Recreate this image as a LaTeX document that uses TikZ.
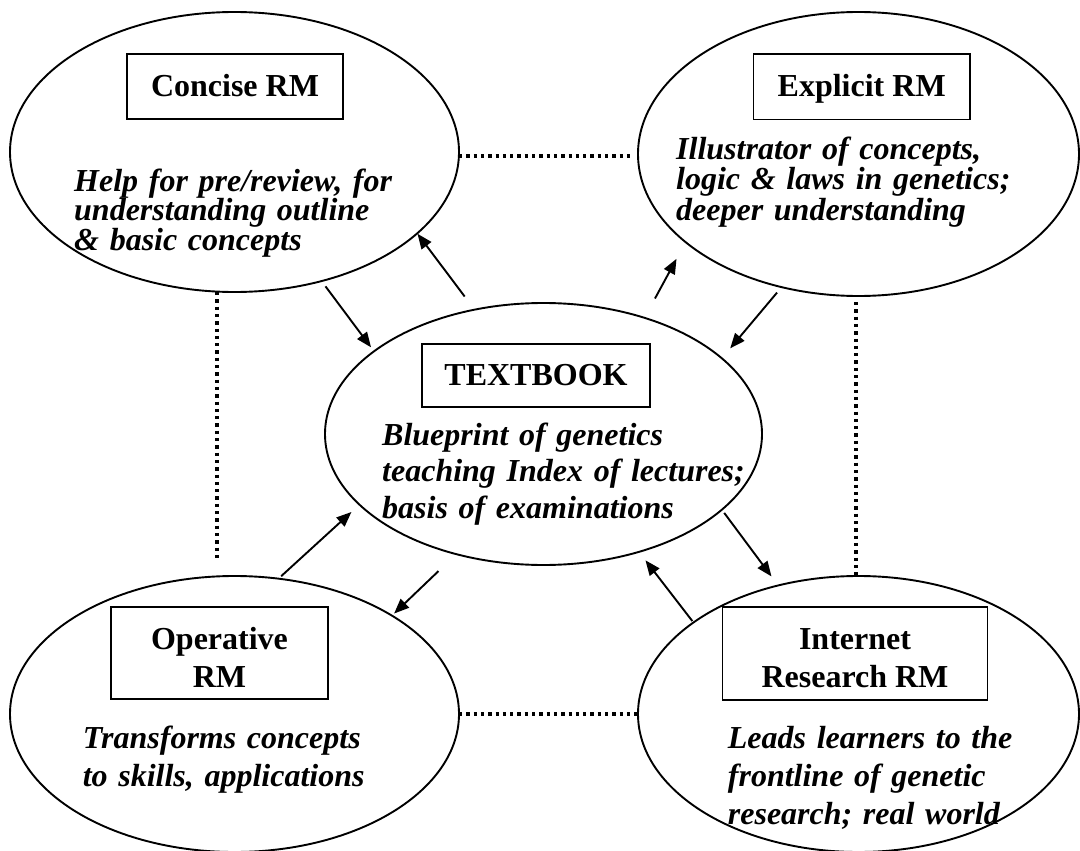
\documentclass[tikz,border=0pt]{standalone}
\usepackage{fontspec}
\setmainfont{Liberation Serif}
\usetikzlibrary{shapes.geometric,arrows.meta}
\lineskiplimit=-50pt
\tikzset{
  oval/.style={ellipse, draw, line width=1.9pt, inner sep=0pt, outer sep=0pt},
  lbl/.style={draw, line width=1.5pt, inner sep=0pt, align=center,
    font=\bfseries\fontsize{32}{38}\selectfont},
  onerow/.style={text height=22pt, text depth=2pt},
  tworow/.style={text height=68pt, text depth=0pt},
  desc/.style={inner sep=0pt, anchor=base west, text width=420pt, align=left},
  arr/.style={-{Triangle[length=15pt,width=12pt]}, line width=1.9pt},
  dots/.style={line width=3.3pt, dash pattern=on 3.3pt off 4pt}
}
\begin{document}
\begin{tikzpicture}[x=1pt,y=1pt]
\fill[white] (0,0) rectangle (1080,-851);
\useasboundingbox (0,0) rectangle (1080,-851);

% ellipses
\node[oval, minimum width=449pt, minimum height=280pt] (concise) at (234.5,-152) {};
\node[oval, minimum width=441pt, minimum height=284pt] (explicit) at (858.5,-154) {};
\node[oval, minimum width=437pt, minimum height=262pt] (textbook) at (543.5,-434) {};
\node[oval, minimum width=449pt, minimum height=276pt] (operative) at (234.5,-714) {};
\node[oval, minimum width=441pt, minimum height=276pt] (internet) at (858.5,-714) {};

% title boxes
\node[lbl, onerow, minimum width=216pt, minimum height=65pt] (conciseT) at (235,-86.5) {Concise RM};
\node[lbl, onerow, minimum width=216.5pt, minimum height=65.5pt] (explicitT) at (861.7,-86.8) {Explicit RM};
\node[lbl, onerow, minimum width=228pt, minimum height=63pt] (textbookT) at (536,-375.5) {TEXTBOOK};
\node[lbl, tworow, minimum width=217pt, minimum height=92pt] (operativeT) at (219.5,-653) {Operative\\RM};
\node[lbl, tworow, minimum width=265pt, minimum height=93pt] (internetT) at (855,-653.5) {Internet\\Research RM};

% descriptions
\node[desc, font=\bfseries\itshape\fontsize{32}{29.6}\selectfont] (conciseD) at (74,-191.1)
  {Help for pre/review, for\\understanding outline\\\& basic concepts};
\node[desc, font=\bfseries\itshape\fontsize{32}{30.6}\selectfont] (explicitD) at (676,-159)
  {Illustrator of concepts,\\logic \& laws in genetics;\\deeper understanding};
\node[desc, font=\bfseries\itshape\fontsize{32}{36.7}\selectfont] (textbookD) at (382,-445)
  {Blueprint of genetics\\teaching Index of lectures;\\basis of examinations};
\node[desc, font=\bfseries\itshape\fontsize{32}{37.9}\selectfont] (operativeD) at (82.6,-748.6)
  {Transforms concepts\\to skills, applications};
\node[desc, font=\bfseries\itshape\fontsize{32}{37.8}\selectfont] (internetD) at (727.7,-748.6)
  {Leads learners to the\\frontline of genetic\\research; real world};

% dotted links
\draw[dots] ([yshift=-4pt]concise.east) -- ([xshift=-5pt,yshift=-2pt]explicit.west);
\draw[dots] (operative.east) -- (internet.west);
\draw[dots] ([xshift=-17.5pt]concise.south) -- ([xshift=-17.5pt,yshift=16pt]operative.north);
\draw[dots] ([xshift=-2.5pt,yshift=-6pt]explicit.south) -- ([xshift=-2.5pt]internet.north);

% arrows
\draw[arr, shorten <=6.6pt, shorten >=5pt] (concise.-56.9) -- (textbook.154.3);
\draw[arr, shorten <=16.5pt, shorten >=0.5pt] (textbook.119.5) -- (concise.-24.95);
\draw[arr, shorten <=22pt, shorten >=19pt] (textbook.49.7) -- (explicit.207.7);
\draw[arr, shorten <=7.2pt, shorten >=13pt] (explicit.240.8) -- (textbook.23.2);
\draw[arr, shorten <=3.7pt, shorten >=10.9pt] (operative.72.9) -- (textbook.201.3);
\draw[arr, shorten <=24.6pt, shorten >=3pt] (textbook.234.9) -- (operative.32.54);
\draw[arr, shorten <=4pt, shorten >=11.3pt] (textbook.-23.8) -- (internet.122.9);
\draw[arr, shorten <=1.8pt, shorten >=10.7pt] (internet.151.4) -- (textbook.-51.9);
\end{tikzpicture}
\end{document}
